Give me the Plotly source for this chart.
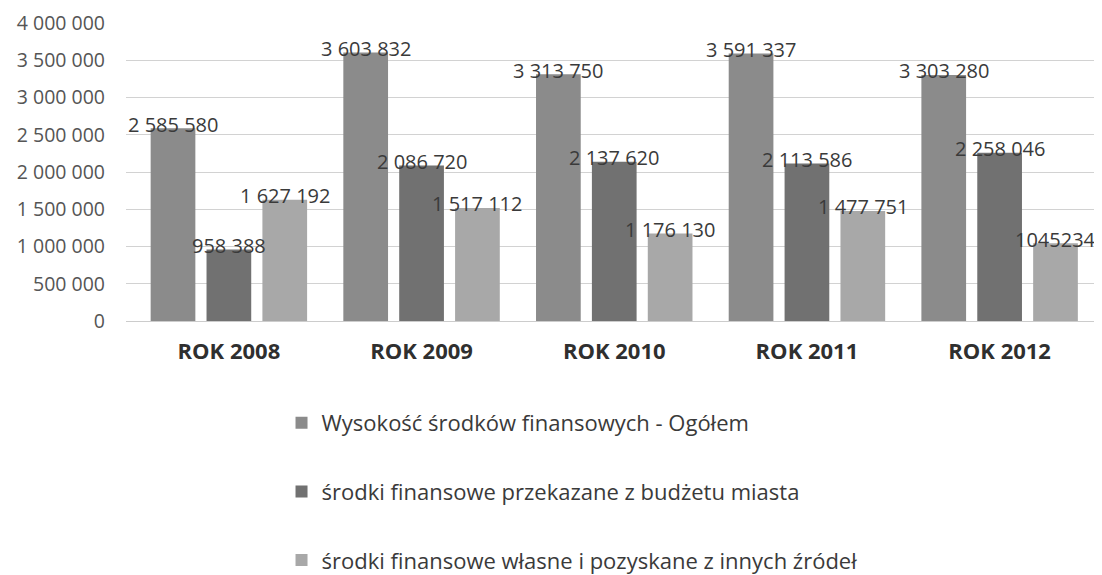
import plotly.graph_objects as go

categories = ["ROK 2008", "ROK 2009", "ROK 2010", "ROK 2011", "ROK 2012"]
series_names = [
    "Wysokość środków finansowych - Ogółem",
    "środki finansowe przekazane z budżetu miasta",
    "środki finansowe własne i pozyskane z innych źródeł",
]
total = [2585580, 3603832, 3313750, 3591337, 3303280]
city_budget = [958388, 2086720, 2137620, 2113586, 2258046]
own_other = [1627192, 1517112, 1176130, 1477751, 1045234]

total_labels = ["2 585 580", "3 603 832", "3 313 750", "3 591 337", "3 303 280"]
city_labels = ["958 388", "2 086 720", "2 137 620", "2 113 586", "2 258 046"]
own_labels = ["1 627 192", "1 517 112", "1 176 130", "1 477 751", "1045234"]

colors = ["#8b8b8b", "#717171", "#a8a8a8"]
FONT = "Open Sans"
BARGAP = 0.13
BARGROUPGAP = 0.2

series = [(total, total_labels), (city_budget, city_labels), (own_other, own_labels)]

fig = go.Figure()
for i, (vals, labs) in enumerate(series):
    fig.add_trace(go.Bar(
        x=categories, y=vals, name=series_names[i],
        marker=dict(color=colors[i], line=dict(width=0)),
        legendgroup=f"g{i}",
    ))

# value labels positioned through the category axis (index + group offset)
n_series = len(series)
slot = (1 - BARGAP) / n_series
annotations = []
for j, (vals, labs) in enumerate(series):
    for k, (v, lab) in enumerate(zip(vals, labs)):
        annotations.append(dict(
            x=k + (j - (n_series - 1) / 2) * slot, y=v,
            xref="x", yref="y", text=lab, showarrow=False,
            xanchor="center", yanchor="middle", yshift=4,
            font=dict(family=FONT, size=20, color="#3a3a3a"),
        ))

fig.update_layout(
    width=1102, height=575,
    margin=dict(l=118, r=12, t=15, b=262, autoexpand=False),
    paper_bgcolor="white", plot_bgcolor="white",
    barmode="group", bargap=BARGAP, bargroupgap=BARGROUPGAP,
    separators=", ",
    font=dict(family=FONT, color="#555555"),
    showlegend=True,
    annotations=annotations,
    legend=dict(
        orientation="v", x=0.160, xanchor="left", y=-0.272, yanchor="top",
        font=dict(family=FONT, size=22, color="#3a3a3a"),
        traceorder="grouped", tracegroupgap=37,
        bgcolor="rgba(0,0,0,0)", itemclick=False,
    ),
    xaxis=dict(
        automargin=False,
        showgrid=False, showline=False, ticks="",
        tickfont=dict(family=FONT, size=22, color="#2f2f2f", weight="bold"),
        ticklabelstandoff=15,
    ),
    yaxis=dict(
        automargin=False,
        range=[0, 4000000], dtick=500000, tickformat=",d",
        showgrid=True, gridcolor="#d2d2d2", gridwidth=1,
        zeroline=True, zerolinecolor="#cccccc", zerolinewidth=1,
        showline=False, ticks="",
        tickfont=dict(family=FONT, size=19.5, color="#555555"),
        ticklabelstandoff=20, ticklabeloverflow="allow",
    ),
)

fig.write_html("out.html")
